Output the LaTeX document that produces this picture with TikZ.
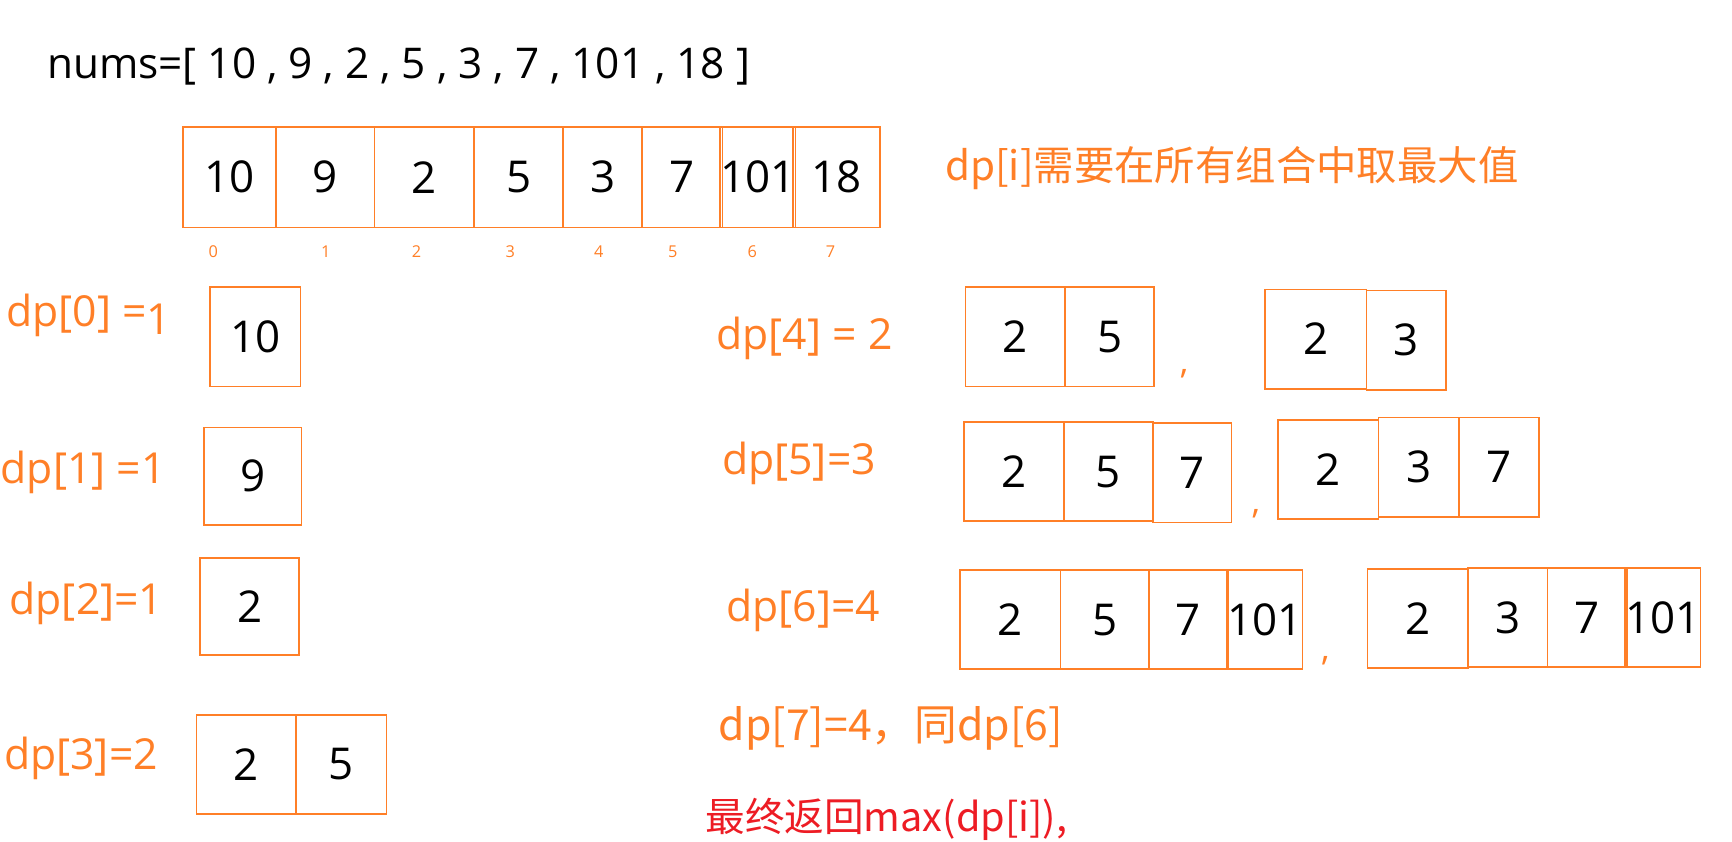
\documentclass[tikz,border=0pt]{standalone}
\usepackage{fontspec}
\setmainfont{Open Sans}
\newfontfamily\cjk{Noto Sans CJK SC}
\usepackage{xcolor}
\usepackage{tikz}
\definecolor{paintorange}{RGB}{255,127,39}
\definecolor{paintred}{RGB}{237,28,36}

\begin{document}
\begin{tikzpicture}[x=0.01cm, y=-0.01cm,
    cell/.style={draw=paintorange, line width=0.45pt, inner sep=0pt, font=\fontsize{11.3}{13}\selectfont},
    dplabel/.style={anchor=base west, inner sep=0pt, text=paintorange, font=\fontsize{11}{13}\selectfont},
    cjklabel/.style={anchor=base west, inner sep=0pt, text=paintorange, font=\cjk\fontsize{10.4}{13}\selectfont},
    idx/.style={inner sep=0pt, text=paintorange, font=\fontsize{4.2}{5}\selectfont},
    sep/.style={inner sep=0pt, text=paintorange, font=\fontsize{9}{11}\selectfont}]
    \useasboundingbox (0,0) rectangle (1568,762);

    \node[anchor=base west, inner sep=0pt, font=\fontsize{10.9}{13}\selectfont] (nums) at (42,71) {nums=[ 10 , 9 , 2 , 5 , 3 , 7 , 101 , 18 ]};
    \node[cjklabel] (hint) at (855,163) {dp[i]需要在所有组合中取最大值};

    % the array
    \foreach \n/\l/\r/\v in {a0/166/250/10, a1/250/339/9, a2/339/429/2, a3/429/510/5,
                             a4/510/581/3, a5/581/654/7, a6/654/718/101, a7/718/797/18}{
        \node[cell, minimum width={(\r-\l)*0.01cm}, minimum height=0.91cm] (\n) at ({(\l+\r)/2},160.5) {\v};
    }
    \foreach \x [count=\i from 0] in {193,295,377,462,542,609,681,752}{
        \node[idx] (i\i) at (\x,228) {\i};
    }

    % left column
    \node[dplabel] (dp0) at (5,296) {dp[0] =\raisebox{-2pt}{1}};
    \node[dplabel] (dp1) at (0,438) {dp[1] =1};
    \node[dplabel] (dp2) at (8,556) {dp[2]=1};
    \node[dplabel] (dp3) at (3,697) {dp[3]=2};

    % right column
    \node[dplabel] (dp4) at (648,316) {dp[4] = 2};
    \node[dplabel] (dp5) at (653,430) {dp[5]=3};
    \node[dplabel] (dp6) at (657,563) {dp[6]=4};
    \node[cjklabel, font=\cjk\fontsize{11}{13}\selectfont] (dp7) at (650,670) {dp[7]=4，同dp[6]};
    \node[cjklabel, text=paintred, font=\cjk\fontsize{10.2}{13}\selectfont] (ret) at (638,753) {最终返回max(dp[i]),};

    % candidate sequences: name/left/top/right/bottom/value
    \foreach \n/\l/\t/\r/\b/\v in {
        s0/190/260/272/350/10,
        s1/185/387/273/475/9,
        s2/181/505/271/593/2,
        s3a/178/647/268/737/2, s3b/268/647/350/737/5,
        s4a/874/260/964/350/2, s4b/964/260/1045/350/5,
        s4c/1145/262/1237/352/2, s4d/1237/263/1309/353/3,
        s5a/873/382/963/472/2, s5b/963/382/1044/472/5, s5c/1044/383/1115/473/7,
        s5d/1157/380/1248/470/2, s5e/1248/378/1321/468/3, s5f/1321/378/1393/468/7,
        s6a/869/516/960/606/2, s6b/960/516/1040/606/5, s6c/1040/516/1112/606/7, s6d/1112/516/1178/606/101,
        s6e/1238/515/1329/605/2, s6f/1329/514/1401/604/3, s6g/1401/514/1473/604/7, s6h/1473/514/1538/604/101}{
        \node[cell, minimum width={(\r-\l)*0.01cm}, minimum height={(\b-\t)*0.01cm}] (\n) at ({(\l+\r)/2},{(\t+\b)/2}) {\v};
    }

    \node[sep] (c4) at (1072,338) {,};
    \node[sep] (c5) at (1137,465) {,};
    \node[sep] (c6) at (1200,598) {,};
\end{tikzpicture}
\end{document}
